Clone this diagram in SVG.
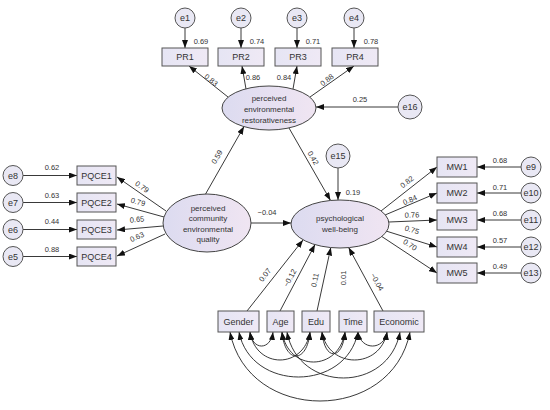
<svg xmlns="http://www.w3.org/2000/svg" width="550" height="410" viewBox="0 0 550 410">
<style>
text{font-family:"Liberation Sans",Arial,sans-serif;fill:#333}
.n{font-size:9px;text-anchor:middle}
.el{font-size:8px;text-anchor:middle}
.lb{font-size:7.5px;text-anchor:middle}
.box{fill:url(#gb);stroke:#555;stroke-width:1}
.ell{fill:url(#ge);stroke:#444;stroke-width:1}
.err{fill:#e9e8f4;stroke:#555;stroke-width:1}
.c line,.c path{stroke:#222;stroke-width:0.9;fill:none;marker-end:url(#ah)}
.c path.cov{marker-start:url(#ah)}
</style>
<defs>
<linearGradient id="gb" x1="0" y1="0" x2="1" y2="0"><stop offset="0" stop-color="#e6e5f4"/><stop offset="1" stop-color="#efe9f5"/></linearGradient>
<linearGradient id="ge" x1="0" y1="0" x2="1" y2="0"><stop offset="0" stop-color="#dcdbf0"/><stop offset="1" stop-color="#f0e5f2"/></linearGradient>
<marker id="ah" viewBox="0 0 8 6" refX="8" refY="3" markerWidth="8" markerHeight="6" markerUnits="userSpaceOnUse" orient="auto-start-reverse"><path d="M0,0 L8,3 L0,6 z" fill="#111"/></marker>
</defs>
<rect width="550" height="410" fill="#fff"/>
<g id="connectors" class="c">
<line x1="185" y1="28" x2="185" y2="48"/>
<line x1="241" y1="28" x2="241" y2="48"/>
<line x1="297" y1="28" x2="297" y2="48"/>
<line x1="354" y1="28" x2="354" y2="48"/>
<line x1="228" y1="97" x2="189" y2="66"/>
<line x1="246" y1="89" x2="242" y2="66"/>
<line x1="293" y1="89" x2="297" y2="66"/>
<line x1="310" y1="97" x2="354" y2="66"/>
<line x1="398" y1="107" x2="316" y2="107"/>
<line x1="23" y1="175.5" x2="77" y2="175.5"/>
<line x1="23" y1="202.5" x2="77" y2="202.5"/>
<line x1="23" y1="229.5" x2="77" y2="229.5"/>
<line x1="23" y1="256.5" x2="77" y2="256.5"/>
<line x1="166" y1="211" x2="117" y2="177"/>
<line x1="164" y1="217" x2="117" y2="204"/>
<line x1="163" y1="226" x2="117" y2="230"/>
<line x1="165" y1="234" x2="117" y2="256"/>
<line x1="205" y1="195" x2="244" y2="126.5"/>
<line x1="251" y1="223" x2="291" y2="223"/>
<line x1="289" y1="128" x2="330.5" y2="200.5"/>
<line x1="338" y1="168" x2="338" y2="200"/>
<line x1="381" y1="211" x2="437" y2="167"/>
<line x1="385" y1="215" x2="437" y2="193"/>
<line x1="389" y1="222" x2="437" y2="220"/>
<line x1="386" y1="231" x2="437" y2="247"/>
<line x1="381" y1="236" x2="437" y2="273"/>
<line x1="521" y1="167" x2="477" y2="167"/>
<line x1="521" y1="193" x2="477" y2="193"/>
<line x1="521" y1="220" x2="477" y2="220"/>
<line x1="521" y1="247" x2="477" y2="247"/>
<line x1="521" y1="273" x2="477" y2="273"/>
<line x1="247" y1="311" x2="303" y2="240"/>
<line x1="280" y1="311" x2="315" y2="244.5"/>
<line x1="317" y1="311" x2="330.8" y2="247.5"/>
<line x1="383" y1="311" x2="348.7" y2="247.6"/>
<path class="cov" d="M250,332 C252.3,350.7 270.7,350.7 273,332"/>
<path class="cov" d="M282,332 C284.8,364 307.2,364 310,332"/>
<path class="cov" d="M322,332 C324.3,361 342.7,361 345,332"/>
<path class="cov" d="M358,332 C360.9,350.7 384.1,350.7 387,332"/>
<path class="cov" d="M250,332 C256,369.3 304,369.3 310,332"/>
<path class="cov" d="M282,332 C288.3,372 338.7,372 345,332"/>
<path class="cov" d="M322,332 C328.5,369.3 380.5,369.3 387,332"/>
<path class="cov" d="M239,332 C250.9,392 346.1,392 358,332"/>
<path class="cov" d="M287,332 C298.3,393.3 388.7,393.3 400,332"/>
<path class="cov" d="M230,332 C248,424 392,424 410,332"/>
<text class="lb" x="201" y="44">0.69</text>
<text class="lb" x="257" y="44">0.74</text>
<text class="lb" x="313" y="44">0.71</text>
<text class="lb" x="371" y="44">0.78</text>
<text class="lb" transform="translate(211,80) rotate(38)" y="2.5">0.83</text>
<text class="lb" x="253" y="80">0.86</text>
<text class="lb" x="284" y="80">0.84</text>
<text class="lb" transform="translate(327,80) rotate(-38)" y="2.5">0.88</text>
<text class="lb" x="360" y="102">0.25</text>
<text class="lb" x="52" y="169.5">0.62</text>
<text class="lb" x="52" y="197.5">0.63</text>
<text class="lb" x="52" y="224">0.44</text>
<text class="lb" x="52" y="251.5">0.88</text>
<text class="lb" transform="translate(142,187) rotate(35)" y="2.5">0.79</text>
<text class="lb" transform="translate(138,202) rotate(15)" y="2.5">0.79</text>
<text class="lb" transform="translate(137,219.5) rotate(-5)" y="2.5">0.65</text>
<text class="lb" transform="translate(137,237) rotate(-25)" y="2.5">0.63</text>
<text class="lb" transform="translate(217,157) rotate(-60)" y="2.5">0.59</text>
<text class="lb" x="267" y="214.5">−0.04</text>
<text class="lb" transform="translate(313,158) rotate(60)" y="2.5">0.42</text>
<text class="lb" x="353" y="194.5">0.19</text>
<text class="lb" transform="translate(407,182) rotate(-38)" y="2.5">0.82</text>
<text class="lb" transform="translate(410,200) rotate(-23)" y="2.5">0.84</text>
<text class="lb" transform="translate(412,215) rotate(-2)" y="2.5">0.76</text>
<text class="lb" transform="translate(412,230) rotate(17)" y="2.5">0.75</text>
<text class="lb" transform="translate(410,245) rotate(33)" y="2.5">0.70</text>
<text class="lb" x="500" y="163">0.68</text>
<text class="lb" x="500" y="190">0.71</text>
<text class="lb" x="500" y="216">0.68</text>
<text class="lb" x="500" y="242.5">0.57</text>
<text class="lb" x="500" y="269">0.49</text>
<text class="lb" transform="translate(265,275) rotate(-52)" y="2.5">0.07</text>
<text class="lb" transform="translate(290,278) rotate(-62)" y="2.5">−0.12</text>
<text class="lb" transform="translate(315,280) rotate(-78)" y="2.5">0.11</text>
<text class="lb" transform="translate(343,278) rotate(-90)" y="2.5">0.01</text>
<text class="lb" transform="translate(377,282) rotate(61)" y="2.5">−0.04</text>
</g>
<g id="e1"><circle class="err" cx="185" cy="18" r="10"/><text class="n" x="185" y="21">e1</text></g>
<g id="e2"><circle class="err" cx="241" cy="18" r="10"/><text class="n" x="241" y="21">e2</text></g>
<g id="e3"><circle class="err" cx="297" cy="18" r="10"/><text class="n" x="297" y="21">e3</text></g>
<g id="e4"><circle class="err" cx="354" cy="18" r="10"/><text class="n" x="354" y="21">e4</text></g>
<g id="PR1"><rect class="box" x="162" y="48" width="46" height="18"/><text class="n" x="185" y="60.2">PR1</text></g>
<g id="PR2"><rect class="box" x="218" y="48" width="46" height="18"/><text class="n" x="241" y="60.2">PR2</text></g>
<g id="PR3"><rect class="box" x="275" y="48" width="46" height="18"/><text class="n" x="298" y="60.2">PR3</text></g>
<g id="PR4"><rect class="box" x="332" y="48" width="46" height="18"/><text class="n" x="355" y="60.2">PR4</text></g>
<g id="PER"><ellipse class="ell" cx="269" cy="108" rx="47" ry="22"/><text class="el" x="269" y="101">perceived</text><text class="el" x="269" y="112">environmental</text><text class="el" x="269" y="123">restorativeness</text></g>
<g id="e16"><circle class="err" cx="410" cy="107" r="12"/><text class="n" x="410" y="110">e16</text></g>
<g id="e8"><circle class="err" cx="13" cy="175.5" r="10"/><text class="n" x="13" y="178.5">e8</text></g>
<g id="e7"><circle class="err" cx="13" cy="202.5" r="10"/><text class="n" x="13" y="205.5">e7</text></g>
<g id="e6"><circle class="err" cx="13" cy="229.5" r="10"/><text class="n" x="13" y="232.5">e6</text></g>
<g id="e5"><circle class="err" cx="13" cy="256.5" r="10"/><text class="n" x="13" y="259.5">e5</text></g>
<g id="PQCE1"><rect class="box" x="77" y="166" width="39" height="19"/><text class="n" x="96.5" y="178.7">PQCE1</text></g>
<g id="PQCE2"><rect class="box" x="77" y="193" width="39" height="19"/><text class="n" x="96.5" y="205.7">PQCE2</text></g>
<g id="PQCE3"><rect class="box" x="77" y="220" width="39" height="19"/><text class="n" x="96.5" y="232.7">PQCE3</text></g>
<g id="PQCE4"><rect class="box" x="77" y="247" width="39" height="19"/><text class="n" x="96.5" y="259.7">PQCE4</text></g>
<g id="PQCE"><ellipse class="ell" cx="207" cy="223" rx="44" ry="29"/><text class="el" x="208" y="210.5">perceived</text><text class="el" x="208" y="221">community</text><text class="el" x="208" y="231.5">environmental</text><text class="el" x="208" y="242">quality</text></g>
<g id="PWB"><ellipse class="ell" cx="340" cy="224" rx="49" ry="24"/><text class="el" x="340" y="221">psychological</text><text class="el" x="340" y="232">well-being</text></g>
<g id="e15"><circle class="err" cx="338" cy="156" r="12"/><text class="n" x="338" y="159">e15</text></g>
<g id="MW1"><rect class="box" x="437" y="157" width="40" height="20"/><text class="n" x="457" y="170.2">MW1</text></g>
<g id="MW2"><rect class="box" x="437" y="183" width="40" height="20"/><text class="n" x="457" y="196.2">MW2</text></g>
<g id="MW3"><rect class="box" x="437" y="210" width="40" height="20"/><text class="n" x="457" y="223.2">MW3</text></g>
<g id="MW4"><rect class="box" x="437" y="237" width="40" height="20"/><text class="n" x="457" y="250.2">MW4</text></g>
<g id="MW5"><rect class="box" x="437" y="263" width="40" height="20"/><text class="n" x="457" y="276.2">MW5</text></g>
<g id="e9"><circle class="err" cx="531" cy="167" r="10"/><text class="n" x="531" y="170">e9</text></g>
<g id="e10"><circle class="err" cx="531" cy="193" r="10"/><text class="n" x="531" y="196">e10</text></g>
<g id="e11"><circle class="err" cx="531" cy="220" r="10"/><text class="n" x="531" y="223">e11</text></g>
<g id="e12"><circle class="err" cx="531" cy="247" r="10"/><text class="n" x="531" y="250">e12</text></g>
<g id="e13"><circle class="err" cx="531" cy="273" r="10"/><text class="n" x="531" y="276">e13</text></g>
<g id="Gender"><rect class="box" x="218" y="311" width="41" height="21"/><text class="n" x="238.5" y="324.5">Gender</text></g>
<g id="Age"><rect class="box" x="267" y="311" width="27" height="21"/><text class="n" x="280.5" y="324.5">Age</text></g>
<g id="Edu"><rect class="box" x="302" y="311" width="28" height="21"/><text class="n" x="316" y="324.5">Edu</text></g>
<g id="Time"><rect class="box" x="339" y="311" width="28" height="21"/><text class="n" x="353" y="324.5">Time</text></g>
<g id="Economic"><rect class="box" x="374" y="311" width="50" height="21"/><text class="n" x="399" y="324.5">Economic</text></g>
</svg>
